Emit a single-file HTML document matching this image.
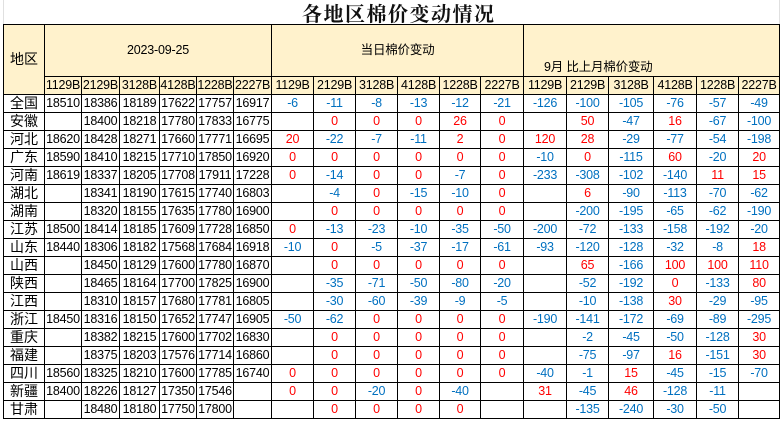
<!DOCTYPE html>
<html><head><meta charset="utf-8"><style>
html,body{margin:0;padding:0;background:#fff;width:784px;height:422px;overflow:hidden;position:relative;font-family:"Liberation Sans","Noto Sans CJK SC",sans-serif;}
.t{position:absolute;left:302px;top:-2px;font:bold 20px "Liberation Serif","Noto Serif CJK SC",serif;color:#111;letter-spacing:1.5px}
table{position:absolute;left:3px;top:24px;border-collapse:collapse;table-layout:fixed;width:777px;}
td{border:1px solid #000;padding:0;height:17px;text-align:center;font-size:12.5px;line-height:17px;color:#000;white-space:nowrap;overflow:hidden;letter-spacing:-0.2px}
.h td{background:#FFF2CC}
td.n{font-size:14px;letter-spacing:0}
.r{color:#f00}.b{color:#0070C0}
.gl{position:absolute;top:0;width:1px;height:24px;background:#e0e0e0}
</style></head><body>
<div class="gl" style="left:3px"></div><div class="gl" style="left:779px"></div>
<div class="t">各地区棉价变动情况</div>
<table>
<colgroup><col style="width:41px"><col style="width:37px"><col style="width:38px"><col style="width:40px"><col style="width:37px"><col style="width:37px"><col style="width:38px"><col style="width:42px"><col style="width:42px"><col style="width:42px"><col style="width:42px"><col style="width:41px"><col style="width:43px"><col style="width:43px"><col style="width:42px"><col style="width:45px"><col style="width:43px"><col style="width:42px"><col style="width:41px"></colgroup>
<tr class="h"><td rowspan="2" class="n" style="height:69px">地区</td><td colspan="6" style="height:51px">2023-09-25</td><td colspan="6">当日棉价变动</td><td colspan="6" style="vertical-align:bottom;text-align:left;padding-left:20px;box-sizing:border-box">9月 比上月棉价变动</td></tr>
<tr class="h"><td>1129B</td><td>2129B</td><td>3128B</td><td>4128B</td><td>1228B</td><td>2227B</td><td>1129B</td><td>2129B</td><td>3128B</td><td>4128B</td><td>1228B</td><td>2227B</td><td>1129B</td><td>2129B</td><td>3128B</td><td>4128B</td><td>1228B</td><td>2227B</td></tr>
<tr><td class="n">全国</td><td>18510</td><td>18386</td><td>18189</td><td>17622</td><td>17757</td><td>16917</td><td class="b">-6</td><td class="b">-11</td><td class="b">-8</td><td class="b">-13</td><td class="b">-12</td><td class="b">-21</td><td class="b">-126</td><td class="b">-100</td><td class="b">-105</td><td class="b">-76</td><td class="b">-57</td><td class="b">-49</td></tr>
<tr><td class="n">安徽</td><td></td><td>18400</td><td>18218</td><td>17780</td><td>17833</td><td>16775</td><td></td><td class="r">0</td><td class="r">0</td><td class="r">0</td><td class="r">26</td><td class="r">0</td><td></td><td class="r">50</td><td class="b">-47</td><td class="r">16</td><td class="b">-67</td><td class="b">-100</td></tr>
<tr><td class="n">河北</td><td>18620</td><td>18428</td><td>18271</td><td>17660</td><td>17771</td><td>16695</td><td class="r">20</td><td class="b">-22</td><td class="b">-7</td><td class="b">-11</td><td class="r">2</td><td class="r">0</td><td class="r">120</td><td class="r">28</td><td class="b">-29</td><td class="b">-77</td><td class="b">-54</td><td class="b">-198</td></tr>
<tr><td class="n">广东</td><td>18590</td><td>18410</td><td>18215</td><td>17710</td><td>17850</td><td>16920</td><td class="r">0</td><td class="r">0</td><td class="r">0</td><td class="r">0</td><td class="r">0</td><td class="r">0</td><td class="b">-10</td><td class="r">0</td><td class="b">-115</td><td class="r">60</td><td class="b">-20</td><td class="r">20</td></tr>
<tr><td class="n">河南</td><td>18619</td><td>18337</td><td>18205</td><td>17708</td><td>17911</td><td>17228</td><td class="r">0</td><td class="b">-14</td><td class="r">0</td><td class="r">0</td><td class="b">-7</td><td class="r">0</td><td class="b">-233</td><td class="b">-308</td><td class="b">-102</td><td class="b">-140</td><td class="r">11</td><td class="r">15</td></tr>
<tr><td class="n">湖北</td><td></td><td>18341</td><td>18190</td><td>17615</td><td>17740</td><td>16803</td><td></td><td class="b">-4</td><td class="r">0</td><td class="b">-15</td><td class="b">-10</td><td class="r">0</td><td></td><td class="r">6</td><td class="b">-90</td><td class="b">-113</td><td class="b">-70</td><td class="b">-62</td></tr>
<tr><td class="n">湖南</td><td></td><td>18320</td><td>18155</td><td>17635</td><td>17780</td><td>16900</td><td></td><td class="r">0</td><td class="r">0</td><td class="r">0</td><td class="r">0</td><td class="r">0</td><td></td><td class="b">-200</td><td class="b">-195</td><td class="b">-65</td><td class="b">-62</td><td class="b">-190</td></tr>
<tr><td class="n">江苏</td><td>18500</td><td>18414</td><td>18185</td><td>17609</td><td>17728</td><td>16850</td><td class="r">0</td><td class="b">-13</td><td class="b">-23</td><td class="b">-10</td><td class="b">-35</td><td class="b">-50</td><td class="b">-200</td><td class="b">-72</td><td class="b">-133</td><td class="b">-158</td><td class="b">-192</td><td class="b">-20</td></tr>
<tr><td class="n">山东</td><td>18440</td><td>18306</td><td>18182</td><td>17568</td><td>17684</td><td>16918</td><td class="b">-10</td><td class="r">0</td><td class="b">-5</td><td class="b">-37</td><td class="b">-17</td><td class="b">-61</td><td class="b">-93</td><td class="b">-120</td><td class="b">-128</td><td class="b">-32</td><td class="b">-8</td><td class="r">18</td></tr>
<tr><td class="n">山西</td><td></td><td>18450</td><td>18129</td><td>17600</td><td>17780</td><td>16870</td><td></td><td class="r">0</td><td class="r">0</td><td class="r">0</td><td class="r">0</td><td class="r">0</td><td></td><td class="r">65</td><td class="b">-166</td><td class="r">100</td><td class="r">100</td><td class="r">110</td></tr>
<tr><td class="n">陕西</td><td></td><td>18465</td><td>18164</td><td>17700</td><td>17825</td><td>16900</td><td></td><td class="b">-35</td><td class="b">-71</td><td class="b">-50</td><td class="b">-80</td><td class="b">-20</td><td></td><td class="b">-52</td><td class="b">-192</td><td class="r">0</td><td class="b">-133</td><td class="r">80</td></tr>
<tr><td class="n">江西</td><td></td><td>18310</td><td>18157</td><td>17680</td><td>17781</td><td>16805</td><td></td><td class="b">-30</td><td class="b">-60</td><td class="b">-39</td><td class="b">-9</td><td class="b">-5</td><td></td><td class="b">-10</td><td class="b">-138</td><td class="r">30</td><td class="b">-29</td><td class="b">-95</td></tr>
<tr><td class="n">浙江</td><td>18450</td><td>18316</td><td>18150</td><td>17652</td><td>17747</td><td>16905</td><td class="b">-50</td><td class="b">-62</td><td class="r">0</td><td class="r">0</td><td class="r">0</td><td class="r">0</td><td class="b">-190</td><td class="b">-141</td><td class="b">-172</td><td class="b">-69</td><td class="b">-89</td><td class="b">-295</td></tr>
<tr><td class="n">重庆</td><td></td><td>18382</td><td>18215</td><td>17600</td><td>17702</td><td>16830</td><td></td><td class="r">0</td><td class="r">0</td><td class="r">0</td><td class="r">0</td><td class="r">0</td><td></td><td class="b">-2</td><td class="b">-45</td><td class="b">-50</td><td class="b">-128</td><td class="r">30</td></tr>
<tr><td class="n">福建</td><td></td><td>18375</td><td>18203</td><td>17576</td><td>17714</td><td>16860</td><td></td><td class="r">0</td><td class="r">0</td><td class="r">0</td><td class="r">0</td><td class="r">0</td><td></td><td class="b">-75</td><td class="b">-97</td><td class="r">16</td><td class="b">-151</td><td class="r">30</td></tr>
<tr><td class="n">四川</td><td>18560</td><td>18325</td><td>18210</td><td>17600</td><td>17785</td><td>16740</td><td class="r">0</td><td class="r">0</td><td class="r">0</td><td class="r">0</td><td class="r">0</td><td class="r">0</td><td class="b">-40</td><td class="b">-1</td><td class="r">15</td><td class="b">-45</td><td class="b">-15</td><td class="b">-70</td></tr>
<tr><td class="n">新疆</td><td>18400</td><td>18226</td><td>18127</td><td>17350</td><td>17546</td><td></td><td class="r">0</td><td class="r">0</td><td class="b">-20</td><td class="r">0</td><td class="b">-40</td><td></td><td class="r">31</td><td class="b">-45</td><td class="r">46</td><td class="b">-128</td><td class="b">-11</td><td></td></tr>
<tr><td class="n">甘肃</td><td></td><td>18480</td><td>18180</td><td>17750</td><td>17800</td><td></td><td></td><td class="r">0</td><td class="r">0</td><td class="r">0</td><td class="r">0</td><td></td><td></td><td class="b">-135</td><td class="b">-240</td><td class="b">-30</td><td class="b">-50</td><td></td></tr>
</table>
</body></html>
